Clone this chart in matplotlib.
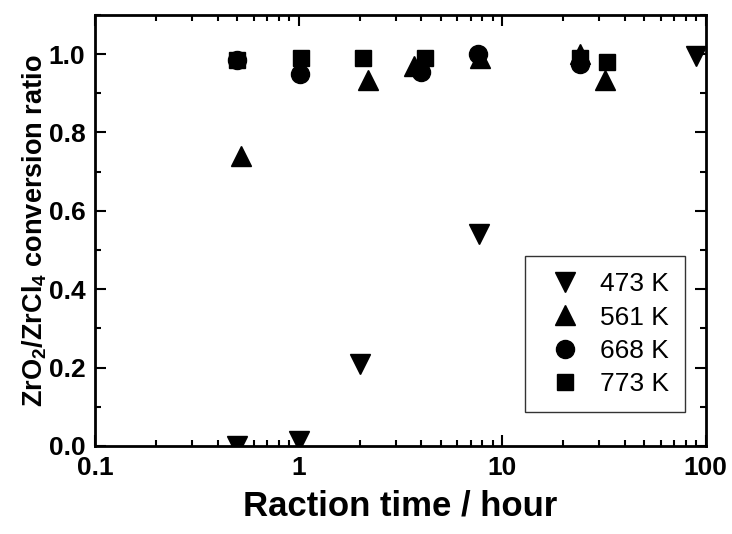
import matplotlib
matplotlib.use("Agg")
import matplotlib.pyplot as plt
from matplotlib.ticker import MultipleLocator, LogLocator, NullFormatter

plt.rcParams['font.family'] = ['Liberation Sans', 'DejaVu Sans']
plt.rcParams['mathtext.default'] = 'regular'

t_473 = [0.5, 1.0, 2.0, 7.7, 90]
r_473 = [0.0, 0.012, 0.21, 0.54, 0.995]
t_561 = [0.52, 2.2, 3.7, 7.8, 24, 32]
r_561 = [0.74, 0.935, 0.97, 0.99, 1.0, 0.935]
t_668 = [0.5, 1.02, 4.0, 7.6, 24]
r_668 = [0.985, 0.95, 0.955, 1.0, 0.975]
t_773 = [0.5, 1.03, 2.08, 4.2, 24, 32.7]
r_773 = [0.985, 0.99, 0.99, 0.99, 0.99, 0.98]

labels = ['473 K', '561 K', '668 K', '773 K']
xticks = [0.1, 1, 10, 100]
xticklabels = ['0.1', '1', '10', '100']
yticks = [0.0, 0.2, 0.4, 0.6, 0.8, 1.0]

fig = plt.figure(figsize=(7.32, 5.34), dpi=100)
ax = fig.add_axes([0.130, 0.165, 0.834, 0.807])

ax.plot(t_473, r_473, 'v', color='black', ms=15, label=labels[0], zorder=3)
ax.plot(t_561, r_561, '^', color='black', ms=15, label=labels[1], zorder=3)
ax.plot(t_668, r_668, 'o', color='black', ms=13, label=labels[2], zorder=3)
ax.plot(t_773, r_773, 's', color='black', ms=12, label=labels[3], zorder=3)

ax.set_xscale('log')
ax.set_xlim(0.1, 100)
ax.set_ylim(0, 1.1)
ax.set_xticks(xticks)
ax.set_xticklabels(xticklabels)
ax.xaxis.set_minor_locator(LogLocator(base=10, subs=range(2, 10)))
ax.xaxis.set_minor_formatter(NullFormatter())
ax.set_yticks(yticks)
ax.set_yticklabels([f'{v:.1f}' for v in yticks])
ax.yaxis.set_minor_locator(MultipleLocator(0.1))

ax.tick_params(which='both', direction='in', top=True, right=True, width=1.5)
ax.tick_params(which='major', length=8, labelsize=19)
ax.tick_params(axis='x', which='major', pad=7)
ax.tick_params(axis='y', which='major', pad=7)
ax.tick_params(which='minor', length=4)
for lab in ax.get_xticklabels() + ax.get_yticklabels():
    lab.set_fontweight('bold')
for sp in ax.spines.values():
    sp.set_linewidth(2)

ax.set_xlabel('Raction time / hour', fontsize=25, fontweight='bold', labelpad=7)
ax.set_ylabel('ZrO$_2$/ZrCl$_4$ conversion ratio', fontsize=19.5, fontweight='bold', labelpad=0)

leg = ax.legend(loc='lower right', bbox_to_anchor=(0.966, 0.079), borderaxespad=0,
                fontsize=19, frameon=True, fancybox=False, edgecolor='black',
                handletextpad=0.4, borderpad=0.6, labelspacing=0.35, handlelength=1.85)
leg.get_frame().set_linewidth(1.0)

fig.savefig('out.png', dpi=100)
